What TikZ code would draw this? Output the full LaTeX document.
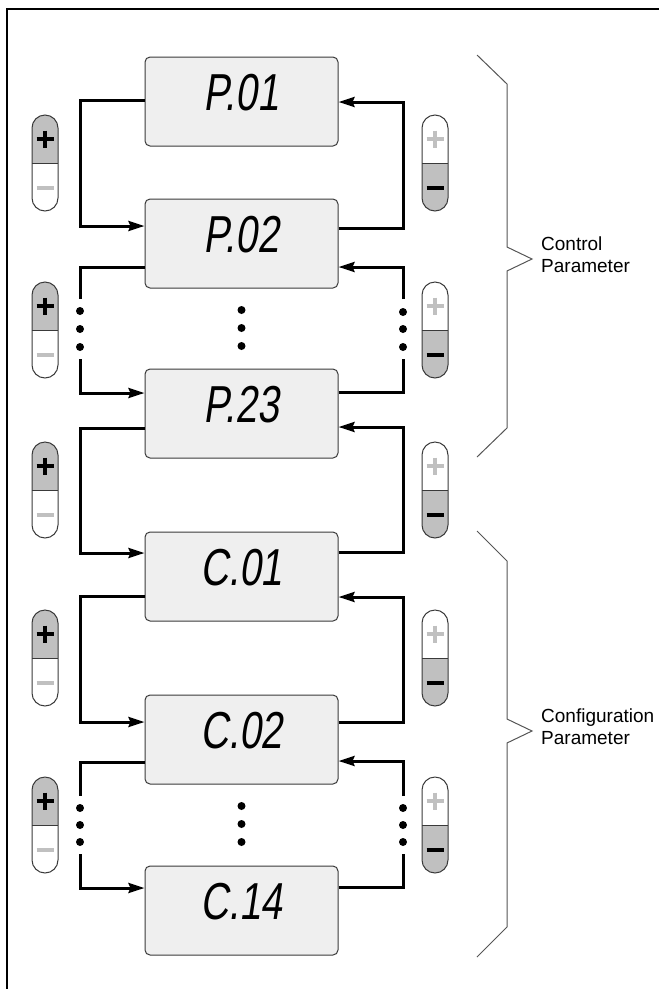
\documentclass[tikz,border=0pt]{standalone}
\usepackage{fontspec}
\setmainfont{Liberation Sans}
\newfontfamily\lcdfont[FakeStretch=0.75,FakeSlant=0.15]{Liberation Sans}
\usetikzlibrary{arrows.meta}
\definecolor{boxfill}{HTML}{EFEFEF}
\definecolor{btngray}{HTML}{C0C0C0}
\definecolor{edgegray}{HTML}{3A3A3A}
\definecolor{bracegray}{HTML}{555555}
\tikzset{
  lcd/.style={draw=edgegray, line width=1pt, fill=boxfill, rounded corners=5pt,
    minimum width=193pt, minimum height=89pt, inner sep=0pt,
    text height=37pt, text depth=20pt, font=\lcdfont\fontsize{52}{52}\selectfont},
  conn/.style={line width=3pt},
  arr/.style={conn, -{Stealth[length=16pt,width=10pt,inset=2pt]}},
  bracestyle/.style={draw=bracegray, line width=1pt},
  lbl/.style={font=\fontsize{19}{22}\selectfont, align=left, anchor=west, inner sep=0pt},
  capsule/.style={draw=edgegray, line width=1pt},
  pics/plusbtn/.style={code={
    \fill[btngray] (-13,0) -- (-13,-35) arc[start angle=180,end angle=0,radius=13pt] -- (13,0) -- cycle;
    \draw[capsule] (-13,-35) arc[start angle=180,end angle=0,radius=13pt] -- (13,35)
        arc[start angle=0,end angle=-180,radius=13pt] -- cycle;
    \draw[edgegray,line width=1pt] (-13,0) -- (13,0);
    \draw[line width=4.5pt] (-8.5,-24) -- (8.5,-24) (0,-32.5) -- (0,-15.5);
    \draw[btngray,line width=4.5pt] (-8.5,25) -- (8.5,25);
  }},
  pics/minusbtn/.style={code={
    \fill[btngray] (-13,0) -- (-13,35) arc[start angle=180,end angle=360,radius=13pt] -- (13,0) -- cycle;
    \draw[capsule] (-13,-35) arc[start angle=180,end angle=0,radius=13pt] -- (13,35)
        arc[start angle=0,end angle=-180,radius=13pt] -- cycle;
    \draw[edgegray,line width=1pt] (-13,0) -- (13,0);
    \draw[btngray,line width=4.5pt] (-8.5,-24) -- (8.5,-24) (0,-32.5) -- (0,-15.5);
    \draw[line width=4.5pt] (-8.5,25) -- (8.5,25);
  }},
}
\begin{document}
\begin{tikzpicture}[x=1pt,y=-1pt]
\useasboundingbox (0,0) rectangle (659,989);
% frame
\draw[line width=2pt] (7,989) -- (7,9) -- (659,9);

% display boxes
\node[lcd] (P01) at (241.5,101.5) {P.01};
\node[lcd] (P02) at (241.5,243.5) {P.02};
\node[lcd] (P23) at (241.5,413.5) {P.23};
\node[lcd] (C01) at (241.5,576.5) {C.01};
\node[lcd] (C02) at (241.5,739.5) {C.02};
\node[lcd] (C14) at (241.5,910.5) {C.14};

% left connectors (+)
\draw[arr] (P01.west |- 0,100) -- (80,100) -- (80,226) -- (P02.west |- 0,226);
\draw[conn] (P02.west |- 0,267) -- (80,267) -- (80,299);
\foreach \yy in {311,329,347} \fill (80,\yy) circle[radius=4pt];
\draw[arr] (80,359) -- (80,393) -- (P23.west |- 0,393);
\draw[arr] (P23.west |- 0,428) -- (80,428) -- (80,553) -- (C01.west |- 0,553);
\draw[arr] (C01.west |- 0,596) -- (80,596) -- (80,722) -- (C02.west |- 0,722);
\draw[conn] (C02.west |- 0,762) -- (80,762) -- (80,796);
\foreach \yy in {808,825,842} \fill (80,\yy) circle[radius=4pt];
\draw[arr] (80,854) -- (80,888) -- (C14.west |- 0,888);

% right connectors (-)
\draw[arr] (P02.east |- 0,228) -- (403,228) -- (403,102) -- (P01.east |- 0,102);
\draw[conn] (P23.east |- 0,392) -- (403,392) -- (403,359);
\foreach \yy in {312,329,347} \fill (403,\yy) circle[radius=4pt];
\draw[arr] (403,299) -- (403,267) -- (P02.east |- 0,267);
\draw[arr] (C01.east |- 0,552) -- (403,552) -- (403,427) -- (P23.east |- 0,427);
\draw[arr] (C02.east |- 0,722) -- (403,722) -- (403,597) -- (C01.east |- 0,597);
\draw[conn] (C14.east |- 0,887) -- (403,887) -- (403,854);
\foreach \yy in {808,825,842} \fill (403,\yy) circle[radius=4pt];
\draw[arr] (403,796) -- (403,761) -- (C02.east |- 0,761);

% centre dots
\foreach \yy in {310,328,346} \fill (241.5,\yy) circle[radius=4pt];
\foreach \yy in {806,824,842} \fill (241.5,\yy) circle[radius=4pt];

% buttons
\foreach \yy in {163,330,490,658,825} {
  \pic at (45,\yy) {plusbtn};
  \pic at (435,\yy) {minusbtn};
}

% braces
\draw[bracestyle] (477,55) -- (507,84) -- (507,247) -- (532,259) -- (507,271) -- (507,428) -- (477,457);
\draw[bracestyle] (477,531) -- (507,561) -- (507,719) -- (532,731) -- (507,743) -- (507,927) -- (477,957);

% labels
\node[lbl] (ctl) at (541,255) {Control\\Parameter};
\node[lbl] (cfg) at (541,727) {Configuration\\Parameter};
\end{tikzpicture}
\end{document}
